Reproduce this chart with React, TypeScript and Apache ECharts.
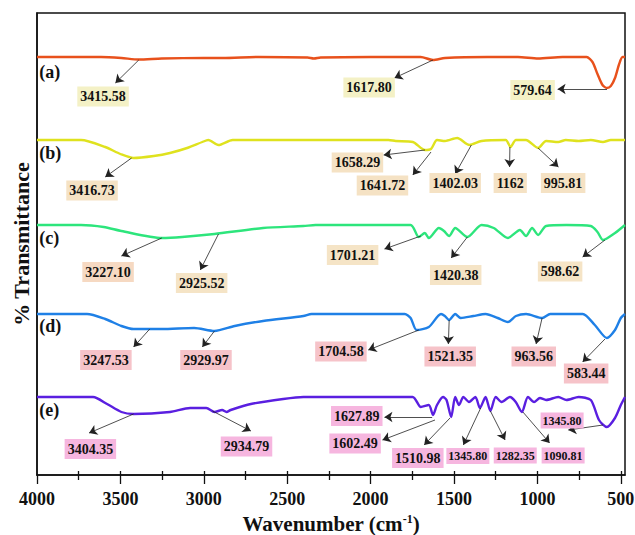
import React, { useEffect, useRef } from 'react';
import * as echarts from 'echarts';

const FONT = "'Liberation Serif', 'Times New Roman', serif";

// ---- spectra (wavenumber, transmittance in stacked display units) ----
const wnA = [4000, 3800, 3616, 3494, 3390, 3252, 3000, 2888, 2670, 2378, 2340, 2300, 2000, 1700, 1626, 1554, 1300, 1117, 996, 850, 729, 705, 670, 640, 610, 584, 560, 535, 510, 490, 475];
const tA = [418, 418, 418, 417, 415.5, 416.5, 417, 417, 418, 417.5, 416.5, 417.5, 418, 418, 415, 417, 418, 418, 416.5, 418, 418, 418, 413, 401, 390, 387, 389, 397, 411, 418, 418];

const wnB = [4000, 3736, 3591, 3500, 3421, 3300, 3203, 3100, 3009, 2973, 2912, 2827, 1893, 1850, 1747, 1675, 1638, 1602, 1554, 1481, 1408, 1335, 1190, 1161, 1129, 1069, 996, 948, 875, 830, 753, 680, 607, 560, 475];
const tB = [335, 335, 328, 321, 317, 319, 322, 327, 333, 335, 330, 335, 335, 334, 333, 325, 326, 335, 334, 337, 330, 334, 335, 328, 335, 335, 327, 334, 333, 335, 334, 335, 333, 335, 335];

const wnC = [4000, 3736, 3600, 3494, 3252, 3130, 2936, 2645, 2403, 2330, 1760, 1712, 1675, 1651, 1591, 1560, 1529, 1493, 1420, 1335, 1262, 1177, 1105, 1068, 1032, 996, 948, 826, 680, 640, 607, 535, 475];
const tC = [250, 250, 248, 244, 237, 238, 241, 247, 249, 250, 250, 238, 242, 237, 247, 244, 239, 247, 238, 250, 247, 237, 245, 239, 247, 240, 249, 250, 249, 243, 235, 242, 250];

const wnD = [4000, 3700, 3591, 3494, 3421, 3252, 3058, 2936, 2815, 2645, 2403, 2354, 1796, 1760, 1724, 1651, 1578, 1555, 1529, 1493, 1460, 1384, 1311, 1238, 1177, 1129, 1068, 971, 923, 729, 656, 584, 535, 500, 475];
const tD = [161, 161, 156, 149, 146, 146, 147, 144, 149, 154, 159, 161, 161, 157, 145, 148, 161, 159, 155, 161, 157, 159, 161, 157, 153, 159, 161, 157, 161, 161, 150, 137, 145, 157, 161];

const wnE = [4000, 3664, 3580, 3494, 3421, 3203, 3082, 2985, 2936, 2890, 2864, 2839, 2718, 2524, 2403, 1748, 1699, 1651, 1626, 1602, 1566, 1545, 1517, 1493, 1470, 1444, 1410, 1372, 1345, 1311, 1282, 1250, 1215, 1165, 1130, 1093, 1057, 1020, 985, 948, 875, 826, 753, 680, 631, 584, 535, 500, 475];
const tE = [78, 78, 71, 63, 61, 63, 67, 67, 63, 65, 63, 65, 71, 76, 78, 78, 68, 70, 60, 70, 78, 75, 58, 78, 70, 78, 73, 78, 67, 78, 64, 78, 73, 78, 73, 63, 78, 73, 77, 75, 78, 75, 78, 75, 55, 48, 57, 70, 78];

const sampleNames = ['(a)', '(b)', '(c)', '(d)', '(e)'];
const sampleLabelAt = [[3990, 403], [3990, 322], [3990, 237], [3990, 149], [3990, 65]];
const lineColors = ['#e8511c', '#dfe21e', '#2de57c', '#1f80e6', '#5a1fe0'];
const boxColors = ['#f4f1c6', '#f5e2c4', '#f5e4c6', '#f6c3c9', '#f6b6df'];

// ---- peak annotations: label position, arrow start (on curve), arrow tip ----
type Ann = { text: string; at: number[]; from: number[]; to: number[]; curve?: number; small?: boolean; bg?: string };
const annA: Ann[] = [
  { text: '3415.58', at: [3604, 378.5], from: [3390, 415], to: [3530, 392] },
  { text: '1617.80', at: [2009, 387.5], from: [1626, 415], to: [1857, 397] },
  { text: '579.64', at: [1029, 385], from: [583, 386], to: [879, 386] },
];
const annB: Ann[] = [
  { text: '1658.29', at: [2079, 312.5], from: [1674, 325], to: [1922, 320] },
  { text: '3416.73', at: [3670, 284.5], from: [3433, 317], to: [3591, 298] },
  { text: '1641.72', at: [1929, 289.5], from: [1638, 323], to: [1747, 300] },
  { text: '1402.03', at: [1493, 292], from: [1396, 330], to: [1493, 301] },
  { text: '1162', at: [1163, 292], from: [1165, 328], to: [1167, 308] },
  { text: '995.81', at: [846, 292], from: [996, 327], to: [874, 308] },
];
const annC: Ann[] = [
  { text: '3227.10', at: [3574, 203], from: [3252, 237], to: [3494, 219], bg: '#f6d9c2' },
  { text: '2925.52', at: [3013, 192], from: [2912, 241], to: [3021, 205] },
  { text: '1701.21', at: [2108, 220], from: [1699, 239], to: [1917, 226] },
  { text: '1420.38', at: [1490, 200], from: [1420, 238], to: [1517, 217] },
  { text: '598.62', at: [864, 203.5], from: [595, 235], to: [729, 218] },
];
const annD: Ann[] = [
  { text: '3247.53', at: [3587, 115], from: [3324, 146], to: [3421, 128] },
  { text: '2929.97', at: [2987, 115], from: [2936, 144], to: [3009, 128] },
  { text: '1704.58', at: [2178, 123.5], from: [1711, 145], to: [2014, 125] },
  { text: '1521.35', at: [1523, 118.5], from: [1529, 155], to: [1534, 131] },
  { text: '963.56', at: [1022, 118.5], from: [972, 157], to: [1008, 131] },
  { text: '583.44', at: [708, 101.5], from: [595, 136], to: [729, 113] },
];
const annE: Ann[] = [
  { text: '3404.35', at: [3680, 26], from: [3421, 61], to: [3688, 42] },
  { text: '2934.79', at: [2744, 28.5], from: [2948, 64], to: [2718, 44] },
  { text: '1627.89', at: [2083, 59], from: [1631, 58], to: [1917, 58] },
  { text: '1602.49', at: [2093, 31.5], from: [1614, 55], to: [1929, 35], curve: 0.25 },
  { text: '1510.98', at: [1717, 17], from: [1524, 57], to: [1679, 30] },
  { text: '1345.80', at: [1417, 19], from: [1340, 67], to: [1444, 30], small: true },
  { text: '1282.35', at: [1133, 19.5], from: [1282, 64], to: [1194, 35], small: true },
  { text: '1090.81', at: [846, 19.5], from: [1087, 63], to: [927, 32], small: true },
  { text: '1345.80', at: [852, 54.5], from: [607, 50], to: [815, 45], curve: -0.5, small: true },
];

const wns = [wnA, wnB, wnC, wnD, wnE];
const vals = [tA, tB, tC, tD, tE];
const anns = [annA, annB, annC, annD, annE];

const majorTicks = [500, 1000, 1500, 2000, 2500, 3000, 3500, 4000];
const minorTicks = [750, 1250, 1750, 2250, 2750, 3250, 3750];
const allTicks = [500, 750, 1000, 1250, 1500, 1750, 2000, 2250, 2500, 2750, 3000, 3250, 3500, 3750];

export default function App() {
  const ref = useRef<HTMLDivElement>(null);
  useEffect(() => {
    if (!ref.current) return;
    const chart = echarts.init(ref.current, null, { renderer: 'svg', width: 635, height: 535 });

    const series = wns.map((wn, i) => ({
      type: 'line',
      xAxisIndex: 0,
      data: wn.map((w, j) => [w, vals[i][j]]),
      showSymbol: false,
      smooth: 0.25,
      lineStyle: { color: lineColors[i], width: 2.4 },
      itemStyle: { color: lineColors[i] },
      silent: true,
      z: 2,
      markLine: {
        silent: true,
        symbol: ['none', 'arrow'],
        symbolSize: 8,
        label: { show: false },
        lineStyle: { color: '#222', width: 0.8, type: 'solid' },
        emphasis: { disabled: true },
        data: anns[i].map((a) => [
          { coord: a.from, lineStyle: { color: '#222', width: 0.8, type: 'solid', curveness: a.curve || 0 } },
          { coord: a.to },
        ]),
      },
      markPoint: {
        silent: true,
        data: [
          {
            coord: sampleLabelAt[i],
            symbol: 'rect',
            symbolSize: 1,
            itemStyle: { color: 'rgba(0,0,0,0)' },
            label: {
              show: true,
              position: 'right',
              distance: 0,
              formatter: sampleNames[i],
              fontFamily: FONT,
              fontWeight: 'bold',
              fontSize: 18,
              color: '#111',
            },
          },
          ...anns[i].map((a) => ({
            coord: a.at,
            symbol: 'rect',
            symbolSize: 1,
            itemStyle: { color: 'rgba(0,0,0,0)' },
            label: {
              show: true,
              position: 'inside',
              formatter: a.text,
              fontFamily: FONT,
              fontWeight: 'bold',
              fontSize: a.small ? 12 : 14,
              color: '#111',
              backgroundColor: a.bg || boxColors[i],
              padding: a.small ? [2, 2] : [3, 3],
            },
          })),
        ],
      },
    }));

    const tickFmt = (v: number) => String(v);

    chart.setOption({
      animation: false,
      backgroundColor: '#ffffff',
      grid: {
        left: 37, right: 10, top: 13, bottom: 60,
        containLabel: false,
        outerBoundsMode: 'none',
        show: true, borderColor: '#111', borderWidth: 1.5, backgroundColor: 'transparent',
      },
      xAxis: [
        {
          type: 'value',
          inverse: true,
          min: 475,
          max: 4000,
          position: 'bottom',
          axisLine: { show: true, lineStyle: { color: '#111', width: 1.5 } },
          axisTick: { show: true, customValues: majorTicks, length: 9, lineStyle: { color: '#111', width: 1.3 } },
          axisLabel: {
            customValues: majorTicks,
            formatter: tickFmt,
            showMinLabel: true,
            showMaxLabel: true,
            hideOverlap: false,
            margin: 15,
            fontFamily: FONT,
            fontWeight: 'bold',
            fontSize: 18,
            color: '#111',
          },
          splitLine: { show: false },
          name: 'Wavenumber (cm{sup|-1})',
          nameLocation: 'middle',
          nameGap: 38,
          nameTextStyle: {
            fontFamily: FONT,
            fontWeight: 'bold',
            fontSize: 21,
            color: '#111',
            rich: { sup: { fontFamily: FONT, fontWeight: 'bold', fontSize: 12, color: '#111', verticalAlign: 'top', padding: [0, 0, 10, 0] } },
          },
        },
        {
          type: 'value',
          inverse: true,
          min: 475,
          max: 4000,
          position: 'bottom',
          axisLine: { show: false },
          axisTick: { show: true, customValues: minorTicks, length: 5, lineStyle: { color: '#111', width: 1.3 } },
          axisLabel: { show: false },
          splitLine: { show: false },
        },
        {
          type: 'value',
          inverse: true,
          min: 475,
          max: 4000,
          position: 'bottom',
          axisLine: { show: false },
          axisTick: { show: true, inside: true, customValues: allTicks, length: 4, lineStyle: { color: '#111', width: 1.3 } },
          axisLabel: { show: false },
          splitLine: { show: false },
        },
      ],
      yAxis: {
        type: 'value',
        min: 0,
        max: 462,
        axisLine: { show: true, lineStyle: { color: '#111', width: 1.5 } },
        axisTick: { show: false },
        axisLabel: { show: false },
        splitLine: { show: false },
        name: '% Transmittance',
        nameLocation: 'middle',
        nameRotate: 90,
        nameGap: 5,
        nameTextStyle: { fontFamily: FONT, fontWeight: 'bold', fontSize: 22, color: '#111', padding: [0, 0, 0, 0] },
      },
      series,
    });
    return () => chart.dispose();
  }, []);
  return <div ref={ref} style={{ position: 'absolute', left: 0, top: 0, width: 635, height: 535, background: '#fff' }} />;
}
